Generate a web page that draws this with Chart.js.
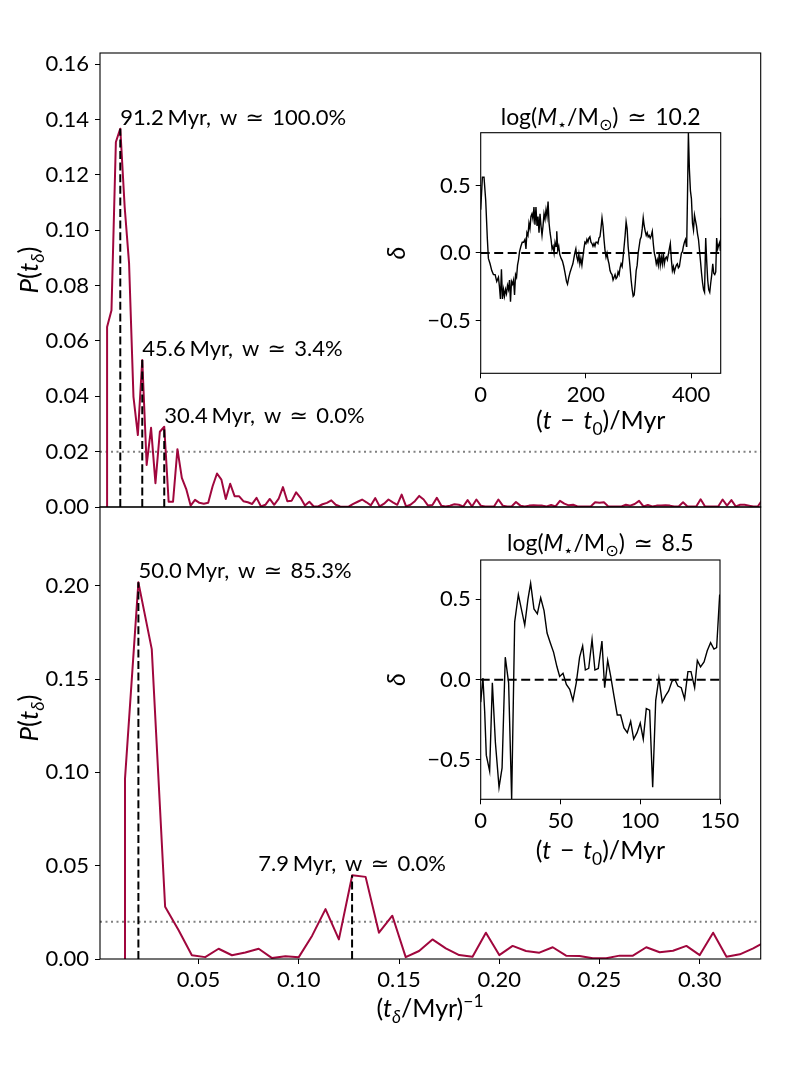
<!DOCTYPE html>
<html><head><meta charset="utf-8">
<script src="https://cdn.jsdelivr.net/npm/chart.js@4.4.1/dist/chart.umd.min.js"></script>
<style>
html,body{margin:0;padding:0;background:#fff;}
#wrap{position:relative;width:800px;height:1066px;overflow:hidden;}
canvas{position:absolute;left:0;top:0;}
</style>
</head><body><div id="wrap">
<canvas id="cTop" width="800" height="1066"></canvas>
<canvas id="cBot" width="800" height="1066"></canvas>
<canvas id="cInsTop" width="800" height="1066"></canvas>
<canvas id="cInsBot" width="800" height="1066"></canvas>
</div>
<script>
// ---------------- DATA ----------------
// Periodogram of the top galaxy: value at frequency k/TOP_SPAN for k = TOP_FIRST_K ...
const TOP_SPAN = 456;   // Myr
const TOP_FIRST_K = 2;
const topPower = [0.065,0.0711,0.1319,0.1367,0.1084,0.088,0.0398,0.026,0.0531,0.0152,
0.0286,0.0086,0.0272,0.029,0.0019,0.0019,0.0209,0.0105,0.0065,0.0005,
0.0026,0.0015,0.0012,0.0015,0.0075,0.0121,0.0099,0.0029,0.0084,0.0039,
0.0039,0.0021,0.0017,0.0011,0.0033,0.0002,0.0008,0.0029,0.0008,0.0029,
0.0072,0.0021,0.0023,0.0053,0.0033,0.0005,0.0019,0.0002,0.0002,0.0010,
0.0015,0.0024,0.0008,0.0002,0.0001,0.0002,0.0011,0.0019,0.0027,0.0017,
0.0006,0.0032,0.0002,0.0012,0.0027,0.0017,0.0008,0.0045,0.0002,0.0008,
0.0021,0.0040,0.0027,0.0005,0.0007,0.0033,0.0005,0.0002,0.0005,0.0010,
0.0008,0.0002,0.0025,0.0002,0.0027,0.0005,0.0002,0.0002,0.0002,0.0027,
0.0005,0.0002,0.0002,0.0018,0.0005,0.0002,0.0005,0.0006,0.0005,0.0005,
0.0002,0.0007,0.0002,0.0022,0.0012,0.0006,0.0008,0.0002,0.0002,0.0002,
0.0002,0.0017,0.0015,0.0017,0.0002,0.0002,0.0002,0.0002,0.0008,0.0005,
0.0011,0.0022,0.0002,0.0007,0.0002,0.0005,0.0005,0.0006,0.0005,0.0002,
0.0002,0.0017,0.0002,0.0002,0.0002,0.0028,0.0002,0.0002,0.0002,0.0002,
0.0027,0.0005,0.0025,0.0002,0.0008,0.0008,0.0005,0.0002,0.0002,0.0025];

// Periodogram of the bottom galaxy: value at frequency k/BOT_SPAN for k = BOT_FIRST_K ...
const BOT_SPAN = 150;   // Myr
const BOT_FIRST_K = 2;
const botPower = [0.0968,0.2018,0.166,0.028,0.0155,0.002,0.001,0.0055,0.002,0.0035,
0.0055,0.0005,0.0015,0.001,0.0125,0.0267,0.0105,0.0449,0.044,0.0141,
0.0232,0.001,0.0043,0.0105,0.0057,0.0021,0.0012,0.0141,0.0021,0.007,
0.0043,0.0034,0.0063,0.0018,0.0016,0.0004,0.0004,0.0018,0.0018,0.0063,
0.0036,0.0044,0.007,0.0021,0.0141,0.0012,0.0025,0.0057,0.0095];

// Identified peaks
const topPeakPeriod = [91.2, 45.6, 30.4];
const topPeakWeight = [100.0, 3.4, 0.0];
const topPeakAlign  = ['left', 'left', 'left'];
const botPeakPeriod = [50.0, 7.9];
const botPeakWeight = [85.3, 0.0];
const botPeakAlign  = ['left', 'center'];
const THRESHOLD = 0.02;

// Inset titles
const topMass = '10.2';
const botMass = '8.5';

// Inset time series: delta(t)
const topInsetT = [0,3.2,6.3,9.5,12.7,14.6,17.8,21.0,24.2,27.4,30.5,33.7,35.6,37.5,39.4,41.4,43.3,45.2,47.1,49.0,
50.9,52.8,54.7,56.6,58.5,60.5,62.4,64.3,66.2,68.1,70.0,71.9,73.8,76.4,78.9,81.5,84.0,86.0,87.8,89.8,
91.7,93.6,95.5,97.4,99.3,101.2,103.1,105.0,107.0,108.9,110.8,112.7,114.6,116.5,118.4,120.3,122.2,124.1,126.0,128.0,
129.9,131.8,133.7,135.6,137.5,139.4,141.3,143.2,144.5,146.4,148.3,150.2,152.8,155.3,157.9,160.4,163.0,164.9,167.4,170.0,
172.5,175.1,177.0,178.9,180.8,182.7,184.6,186.5,188.4,190.3,192.3,194.2,196.1,198.0,199.9,201.8,203.7,205.6,207.5,209.5,
211.4,213.3,215.2,217.1,219.0,220.9,222.8,224.7,226.6,228.5,230.5,232.4,234.3,236.2,238.1,240.0,241.9,243.8,245.7,247.6,
249.5,251.5,253.4,255.3,257.2,259.1,261.0,262.9,264.8,266.7,268.7,270.6,272.5,274.4,276.3,278.2,280.1,282.0,283.9,285.8,
287.8,289.7,291.6,293.5,295.4,297.3,299.2,301.1,303.0,305.0,306.9,308.8,310.7,312.6,314.5,316.4,318.3,320.2,322.1,324.1,
326.0,327.9,329.8,331.7,333.6,335.5,337.4,339.3,341.2,343.2,345.1,347.0,348.9,350.8,352.7,354.6,356.5,358.4,360.3,362.3,
364.2,366.1,368.0,369.9,371.8,373.7,375.6,377.5,379.4,381.4,383.3,385.2,387.1,389.0,390.9,391.5,393.0,394.6,396.5,398.5,
400.4,402.4,404.3,406.2,408.1,410.0,412.0,413.8,415.7,417.6,419.6,421.5,423.4,425.3,427.5,429.4,431.3,433.2,435.2,437.1,
439.0,440.9,442.8,444.7,446.6,448.3,450.3,452.2,454.1,455.3,456.5];
const topInsetD = [0.32,0.56,0.56,0.39,0.10,-0.04,-0.08,-0.13,-0.16,-0.16,-0.21,-0.18,-0.25,-0.34,-0.12,-0.34,-0.27,-0.32,-0.27,-0.30,
-0.24,-0.27,-0.20,-0.36,-0.21,-0.23,-0.20,-0.31,-0.16,-0.18,-0.09,-0.05,0.01,0.05,0.08,0.08,0.10,0.03,0.15,0.13,
0.22,0.18,0.27,0.29,0.25,0.34,0.21,0.34,0.20,0.27,0.15,0.29,0.20,0.13,0.20,0.29,0.25,0.32,0.27,0.38,
0.22,0.15,0.10,0.03,0.05,0.00,0.08,0.05,0.16,0.02,0.05,-0.01,-0.04,-0.06,-0.10,-0.15,-0.21,-0.23,-0.18,-0.14,
-0.11,-0.08,-0.04,0.00,0.03,-0.03,-0.06,-0.01,-0.08,-0.04,-0.09,-0.03,0.03,0.08,0.07,0.10,0.08,0.11,0.12,0.08,
0.07,0.05,0.07,0.05,0.08,0.08,0.07,0.11,0.12,0.18,0.26,0.20,0.10,0.02,-0.03,0.00,-0.05,-0.08,-0.13,-0.15,
-0.16,-0.20,-0.18,-0.16,-0.19,-0.18,-0.14,-0.16,-0.11,-0.08,-0.10,-0.03,0.05,0.13,0.23,0.18,0.05,-0.03,-0.11,-0.20,
-0.27,-0.32,-0.31,-0.23,-0.13,-0.09,0.00,0.05,0.10,0.12,0.18,0.26,0.20,0.16,0.13,0.15,0.12,0.13,0.11,0.13,
0.16,0.07,0.00,-0.03,-0.08,-0.05,-0.09,0.00,-0.09,-0.03,-0.08,0.00,-0.08,-0.04,-0.03,-0.05,-0.01,0.03,0.07,-0.05,
-0.13,-0.10,-0.14,-0.11,-0.09,-0.08,-0.11,-0.10,-0.05,0.00,0.01,0.05,0.08,0.10,0.05,0.08,0.45,0.89,0.62,0.46,
0.40,0.22,0.17,0.28,0.24,0.20,0.14,0.10,0.02,-0.06,-0.15,-0.22,-0.27,-0.29,0.11,-0.06,-0.20,-0.27,-0.29,-0.22,
-0.16,-0.08,-0.15,-0.16,-0.14,0.11,0.03,0.06,0.08,0.02,0.26];

const botInsetT = [0,1.4,2.5,3.5,5.6,7.3,9.2,11.5,13.4,15.4,17.5,19.4,21.3,23.6,27.6,29.6,31.3,33.4,35.5,37.6,
39.7,41.6,43.6,45.7,47.8,49.5,51.6,53.7,55.8,57.8,59.9,62.0,63.9,65.6,67.7,69.8,71.6,73.7,76.0,77.7,
79.6,81.5,83.5,85.6,87.7,89.8,91.9,94.0,95.9,98.0,100.0,101.9,103.8,105.9,107.8,109.7,111.7,113.8,115.9,117.8,
119.9,121.8,123.6,125.7,127.8,129.9,131.8,134.1,135.8,137.8,140.0,142.0,144.1,146.2,147.9,149.8];
const botInsetD = [-0.14,0.01,-0.20,-0.47,-0.57,-0.02,-0.39,-0.67,-0.55,0.14,-0.02,-0.745,0.36,0.53,0.34,0.50,0.60,0.44,0.41,0.51,
0.43,0.29,0.23,0.17,0.08,0.02,0.04,-0.03,-0.06,-0.13,-0.02,0.14,0.21,0.06,0.07,0.25,0.06,0.07,0.24,-0.05,
0.12,0.02,-0.10,-0.22,-0.22,-0.30,-0.33,-0.26,-0.37,-0.33,-0.27,-0.37,-0.18,-0.19,-0.67,-0.13,0.01,-0.14,-0.10,-0.07,
-0.01,0.00,-0.04,-0.05,-0.12,0.05,0.05,-0.05,0.12,0.08,0.11,0.18,0.23,0.19,0.20,0.53];

// Axis ranges and ticks
const X_MIN = 0.00085, X_MAX = 0.3304;
const TOP_INSET_TMAX = 456, BOT_INSET_TMAX = 150;
const mainXTicks = [0.05, 0.10, 0.15, 0.20, 0.25, 0.30];
const topYTicks = [0, 0.02, 0.04, 0.06, 0.08, 0.10, 0.12, 0.14, 0.16];
const botYTicks = [0, 0.05, 0.10, 0.15, 0.20];
const topInsetXTicks = [0, 200, 400];
const botInsetXTicks = [0, 50, 100, 150];
const insetYTicks = [-0.5, 0, 0.5];

// ---------------- STYLE ----------------
const FONT = 'Lato';
const FS = 22;
const LFS = 25;
const RED = '#a0073d';
Chart.defaults.font.family = FONT;
Chart.defaults.color = '#000';

function drawRich(ctx, runs, x, y, o) {
  o = o || {};
  const size = o.size || FS;
  const fontFor = r => (r.i ? 'italic ' : '') + ((r.sub || r.sup) ? (size * 0.7).toFixed(1) : size) + 'px ' + FONT + ', "DejaVu Sans"';
  let w = 0;
  runs.forEach(r => {
    if (r.gap) { r._w = r.gap * size; }
    else { ctx.font = fontFor(r); r._w = ctx.measureText(r.t).width; }
    w += r._w;
  });
  ctx.save();
  ctx.translate(x, y);
  if (o.rotate) ctx.rotate(o.rotate);
  let cx = o.align === 'center' ? -w / 2 : (o.align === 'right' ? -w : 0);
  ctx.textBaseline = 'alphabetic'; ctx.textAlign = 'left'; ctx.fillStyle = '#000';
  runs.forEach(r => {
    if (!r.gap) {
      ctx.font = fontFor(r);
      const dy = r.sub ? size * 0.22 : (r.sup ? -size * 0.42 : 0);
      ctx.fillText(r.t, cx, dy);
    }
    cx += r._w;
  });
  ctx.restore();
}

function frame(chart) {
  const {ctx, chartArea: a} = chart;
  ctx.save(); ctx.strokeStyle = '#000'; ctx.lineWidth = 1.1;
  ctx.strokeRect(a.left, a.top, a.right - a.left, a.bottom - a.top);
  ctx.restore();
}

function spectrum(power, span, firstK) {
  const pts = [{x: firstK / span, y: 0}];
  power.forEach((p, i) => pts.push({x: (firstK + i) / span, y: p}));
  return pts;
}
function peaksOf(periods, weights, aligns, power, span, firstK) {
  return periods.map((p, i) => {
    const k = Math.round(span / p);
    return {period: p, weight: weights[i], align: aligns[i], f: 1 / p, h: power[k - firstK]};
  });
}
const setTicks = arr => s => { s.ticks = arr.map(v => ({value: v})); };

function mainChart(id, power, span, firstK, peaks, pad, showX, yTicks, ylabY) {
  const ymax = 1.2 * Math.max(...power);
  const datasets = [];
  peaks.forEach(pk => datasets.push({
    data: [{x: pk.f, y: 0}, {x: pk.f, y: pk.h}], borderColor: '#000', borderWidth: 2,
    borderDash: [8, 3.6], pointRadius: 0, order: 0
  }));
  datasets.push({data: spectrum(power, span, firstK), borderColor: RED, borderWidth: 2,
    pointRadius: 0, tension: 0, order: 1, borderJoinStyle: 'round'});
  datasets.push({data: [{x: X_MIN, y: THRESHOLD}, {x: X_MAX, y: THRESHOLD}], borderColor: '#808080',
    borderWidth: 2, borderDash: [2, 3.5], pointRadius: 0, order: 2});
  const tickGrid = {display: true, drawOnChartArea: false, drawTicks: true, tickLength: 5, color: '#000', lineWidth: 1};
  return new Chart(document.getElementById(id), {
    type: 'line',
    data: {datasets},
    options: {
      responsive: false, animation: false, devicePixelRatio: 1, events: [],
      layout: {padding: pad},
      plugins: {legend: {display: false}, tooltip: {enabled: false}},
      scales: {
        x: {type: 'linear', min: X_MIN, max: X_MAX, display: showX,
          afterBuildTicks: setTicks(mainXTicks),
          ticks: {autoSkip: false, maxRotation: 0, padding: 3,
            font: {size: FS}, color: '#000', callback: v => v.toFixed(2)},
          grid: tickGrid, border: {display: false},
          afterFit: s => { s.height = showX ? 50 : 0; }},
        y: {type: 'linear', min: 0, max: ymax,
          afterBuildTicks: setTicks(yTicks),
          ticks: {padding: 6, font: {size: FS}, color: '#000', autoSkip: false,
            callback: v => v.toFixed(2)},
          grid: tickGrid, border: {display: false},
          afterFit: s => { s.width = 100; }}
      }
    },
    plugins: [{
      id: 'deco',
      afterDraw(chart) {
        frame(chart);
        const {ctx, scales: {x, y}} = chart;
        peaks.forEach(pk => {
          const px = x.getPixelForValue(pk.f), py = y.getPixelForValue(pk.h);
          drawRich(ctx, [{t: pk.period.toFixed(1)}, {gap: 0.17}, {t: 'Myr,'}, {gap: 0.4}, {t: 'w'},
            {gap: 0.38}, {t: '\u2243'}, {gap: 0.38}, {t: pk.weight.toFixed(1) + '%'}],
            px, py - 4, {align: pk.align});
        });
        drawRich(ctx, [{t: 'P', i: 1}, {t: '('}, {t: 't', i: 1}, {t: '\u03b4', i: 1, sub: 1}, {t: ')'}],
          38, ylabY, {align: 'center', rotate: -Math.PI / 2, size: 26});
        if (showX) {
          drawRich(ctx, [{t: '('}, {t: 't', i: 1}, {t: '\u03b4', i: 1, sub: 1}, {t: '/Myr)'}, {t: '\u22121', sup: 1}],
            430, 1017, {align: 'center', size: LFS});
        }
      }
    }]
  });
}

function insetChart(id, T, D, tmax, xTicks, pad, mass, titleY, xlabY) {
  const lim = Math.max(...D.map(Math.abs));
  const tickGrid = {display: true, drawOnChartArea: false, drawTicks: true, tickLength: 5, color: '#000', lineWidth: 1};
  return new Chart(document.getElementById(id), {
    type: 'line',
    data: {datasets: [
      {data: [{x: 0, y: 0}, {x: tmax, y: 0}], borderColor: '#000', borderWidth: 2, borderDash: [9, 4.5], pointRadius: 0, order: 0},
      {data: T.map((t, i) => ({x: t, y: D[i]})), borderColor: '#000', borderWidth: 1.4, pointRadius: 0, tension: 0, order: 1}
    ]},
    options: {
      responsive: false, animation: false, devicePixelRatio: 1, events: [],
      layout: {padding: pad},
      plugins: {legend: {display: false}, tooltip: {enabled: false}},
      scales: {
        x: {type: 'linear', min: 0, max: tmax,
          afterBuildTicks: setTicks(xTicks),
          ticks: {autoSkip: false, maxRotation: 0, padding: 3,
            font: {size: FS}, color: '#000', callback: v => String(v)},
          grid: tickGrid, border: {display: false},
          afterFit: s => { s.height = 30; }},
        y: {type: 'linear', min: -lim, max: lim,
          afterBuildTicks: setTicks(insetYTicks),
          ticks: {padding: 5, font: {size: FS}, color: '#000', autoSkip: false,
            callback: v => (v < 0 ? '\u2212' : '') + Math.abs(v).toFixed(1)},
          grid: tickGrid, border: {display: false},
          afterFit: s => { s.width = 60; }}
      }
    },
    plugins: [{
      id: 'deco',
      afterDraw(chart) {
        frame(chart);
        const {ctx, chartArea: a} = chart;
        const cx = (a.left + a.right) / 2, cy = (a.top + a.bottom) / 2;
        drawRich(ctx, [{t: 'log('}, {t: 'M', i: 1}, {t: '\u22c6', sub: 1}, {t: '/M'}, {t: '\u2299', sub: 1},
          {t: ')'}, {gap: 0.38}, {t: '\u2243'}, {gap: 0.38}, {t: mass}], cx, titleY, {align: 'center', size: 23});
        drawRich(ctx, [{t: '('}, {t: 't', i: 1}, {gap: 0.35}, {t: '\u2212'}, {gap: 0.35}, {t: 't', i: 1}, {t: '0', sub: 1},
          {t: ')/Myr'}], cx, xlabY, {align: 'center', size: LFS});
        drawRich(ctx, [{t: '\u03b4', i: 1}], 405, cy, {align: 'center', rotate: -Math.PI / 2, size: LFS});
      }
    }]
  });
}

const topPeaks = peaksOf(topPeakPeriod, topPeakWeight, topPeakAlign, topPower, TOP_SPAN, TOP_FIRST_K);
const botPeaks = peaksOf(botPeakPeriod, botPeakWeight, botPeakAlign, botPower, BOT_SPAN, BOT_FIRST_K);

mainChart('cTop', topPower, TOP_SPAN, TOP_FIRST_K, topPeaks,
  {left: 0, top: 53, right: 39.3, bottom: 559}, false, topYTicks, 270);
mainChart('cBot', botPower, BOT_SPAN, BOT_FIRST_K, botPeaks,
  {left: 0, top: 507, right: 39.3, bottom: 57}, true, botYTicks, 718);
insetChart('cInsTop', topInsetT, topInsetD, TOP_INSET_TMAX, topInsetXTicks,
  {left: 420.7, top: 132.7, right: 79.3, bottom: 662.7}, topMass, 125, 429);
insetChart('cInsBot', botInsetT, botInsetD, BOT_INSET_TMAX, botInsetXTicks,
  {left: 420.7, top: 560, right: 80, bottom: 236.7}, botMass, 551, 859);
</script></body></html>
